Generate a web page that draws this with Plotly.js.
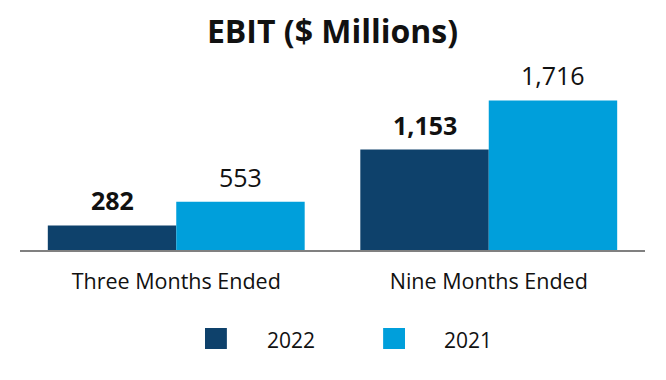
<!DOCTYPE html>
<html>
<head>
<meta charset="utf-8">
<script src="https://cdn.plot.ly/plotly-3.0.1.min.js"></script>
<style>html,body{margin:0;padding:0;background:#fff;}#chart{width:666px;height:380px;}</style>
</head>
<body>
<div id="chart"></div>
<script>
const categories = ["Three Months Ended", "Nine Months Ended"];
const seriesNames = ["2022", "2021"];
const values2022 = [282, 1153];
const values2021 = [553, 1716];
const colors = ["#0e416b", "#009fdb"];
const chartTitle = "EBIT ($ Millions)";

const FONT = "Open Sans, Noto Sans, sans-serif";
const seriesValues = [values2022, values2021];

const traces = seriesValues.map((vals, i) => ({
  type: "bar",
  name: seriesNames[i],
  x: categories,
  y: vals,
  marker: { color: colors[i], line: { width: 0 } },
  hoverinfo: "skip",
  showlegend: false
}));

// value labels
const annotations = [];
const halfBarPx = 64.25;
seriesValues.forEach((vals, i) => {
  vals.forEach((v, j) => {
    const txt = v.toLocaleString("en-US");
    annotations.push({
      x: categories[j], y: v, xref: "x", yref: "y",
      text: i === 0 ? "<b>" + txt + "</b>" : txt,
      showarrow: false, yanchor: "bottom", xanchor: "center",
      xshift: i === 0 ? -halfBarPx : halfBarPx, yshift: 6,
      font: { family: FONT, size: 25, color: "#111" }
    });
  });
});

// manual legend
const shapes = [];
const legendSq = [[0.296, 0.331], [0.581, 0.616]];
const legendTx = [0.392, 0.675];
seriesNames.forEach((n, i) => {
  shapes.push({
    type: "rect", xref: "paper", yref: "paper",
    x0: legendSq[i][0], x1: legendSq[i][1], y0: -0.521, y1: -0.4105,
    fillcolor: colors[i], line: { width: 0 }
  });
  annotations.push({
    x: legendTx[i], y: -0.4737, xref: "paper", yref: "paper",
    text: n, showarrow: false, xanchor: "left", yanchor: "middle",
    font: { family: FONT, size: 21, color: "#111" }
  });
});

const layout = {
  width: 666, height: 380,
  margin: { l: 20, r: 21, t: 60, b: 130 },
  paper_bgcolor: "#fff", plot_bgcolor: "#fff",
  title: {
    text: "<b>" + chartTitle + "</b>",
    font: { family: FONT, size: 32, color: "#111" },
    x: 0.5, xanchor: "center", xref: "paper",
    y: 1 - 32 / 380, yanchor: "middle", yref: "container"
  },
  barmode: "group", bargap: 0.178, bargroupgap: 0,
  xaxis: {
    type: "category", range: [-0.5, 1.5],
    showline: true, linecolor: "#808080", linewidth: 2,
    showgrid: false, zeroline: false, ticks: "",
    ticklabelstandoff: 11,
    tickfont: { family: FONT, size: 21.5, color: "#111" },
    fixedrange: true
  },
  yaxis: {
    range: [0, 2180], visible: false, showgrid: false, zeroline: false, fixedrange: true
  },
  showlegend: false,
  annotations: annotations,
  shapes: shapes
};

Plotly.newPlot("chart", traces, layout, { displayModeBar: false, staticPlot: true });
</script>
</body>
</html>
